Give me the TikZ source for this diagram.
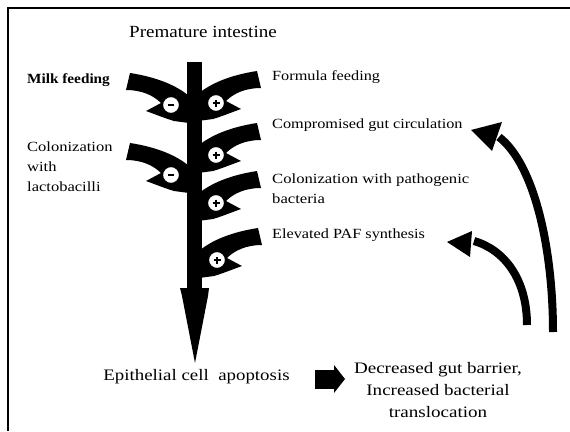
\documentclass[tikz,border=0pt]{standalone}
\usepackage{graphicx}
\usepackage{fontspec}
\setmainfont{Liberation Serif}
\newcommand{\wtxt}[2][1.16]{\scalebox{#1}[1]{#2}}
\tikzset{
  lbl/.style={inner sep=0pt, anchor=west, font=\fontsize{14}{20}\selectfont},
  ttl/.style={inner sep=0pt, font=\fontsize{17}{20}\selectfont},
  btm/.style={inner sep=0pt, align=center, font=\fontsize{16}{22}\selectfont},
  thick arrow/.style={line width=8pt},
  pics/clawshape/.style={code={
    \fill (-18,-9) .. controls (-5,-20) and (15,-28) .. (41,-32) -- (45,-15)
      .. controls (30,-15) and (18,-10) .. (10,-2) -- (25,6)
      .. controls (14,10) and (4,14) .. (-3,16) -- (-18,18) -- cycle;
    \draw[line width=1.2pt, fill=white] (0,0) circle (8.5);
  }},
  pics/plussign/.style={code={\draw[line width=1.5pt] (-3.5,0) -- (3.5,0) (0,-3.5) -- (0,3.5);}},
  pics/minussign/.style={code={\draw[line width=1.5pt] (-3,0) -- (3,0);}},
}
\begin{document}
\begin{tikzpicture}[x=1pt,y=-1pt]
\useasboundingbox (0,0) rectangle (570,431);
% frame
\draw[line width=2pt] (8,7.5) -- (570,7.5);
\draw[line width=2pt] (8,6.5) -- (8,431);

% title
\node[ttl] (title) at (203,32) {\wtxt[1.12]{Premature intestine}};

% stem
\fill (187,62) rectangle (202,292);
\fill (180,288) -- (209,288) -- (208,296) -- (195,363) -- (182,296) -- cycle;
\coordinate (stemtip) at (195,363);

% claws right
\pic at (216,103) {clawshape}; \pic at (216,103) {plussign};
\pic at (216,155) {clawshape}; \pic at (216,155) {plussign};
\pic at (216,203) {clawshape}; \pic at (216,203) {plussign};
\pic at (217,260) {clawshape}; \pic at (217,260) {plussign};
% claws left
\pic[xscale=-1] at (171,105) {clawshape}; \pic at (171,105) {minussign};
\pic[xscale=-1] at (171,175) {clawshape}; \pic at (171,175) {minussign};

% labels right
\node[lbl] (formula) at (272,77) {\wtxt{Formula feeding}};
\node[lbl] (circ) at (272,125) {\wtxt{Compromised gut circulation}};
\node[lbl, align=left] (path) at (272,189) {\wtxt[1.19]{Colonization with pathogenic}\\\wtxt[1.19]{bacteria}};
\node[lbl] (paf) at (272,235) {\wtxt{Elevated PAF synthesis}};
% labels left
\node[lbl, font=\fontsize{14}{20}\selectfont\bfseries] (milk) at (27,80) {\wtxt[1.09]{Milk feeding}};
\node[lbl, align=left] (lacto) at (27,167) {\wtxt[1.18]{Colonization}\\\wtxt[1.18]{with}\\\wtxt[1.18]{lactobacilli}};

% bottom
\node[btm] (apop) at (196.5,377) {\wtxt[1.18]{Epithelial cell~ apoptosis}};
\node[btm] (barrier) at (438,390) {\wtxt[1.19]{Decreased gut barrier,}\\\wtxt[1.19]{Increased bacterial}\\\wtxt[1.19]{translocation}};
\fill (315,370) rectangle (335,389);
\fill (334,365) -- (345,379) -- (334,393) -- cycle;

% curved arrows
\coordinate (b0) at (553,332);
\coordinate (b1) at (499,137);
\draw[thick arrow] (b0) .. controls (553,250) and (535,165) .. (b1);
\fill (471,130) -- (502,122) -- (492,151) -- cycle;
\coordinate (s0) at (527,325);
\coordinate (s1) at (474,241);
\draw[thick arrow] (s0) .. controls (527,280) and (505,250) .. (s1);
\fill (447,242) -- (472,231) -- (470,257) -- cycle;
\end{tikzpicture}
\end{document}
